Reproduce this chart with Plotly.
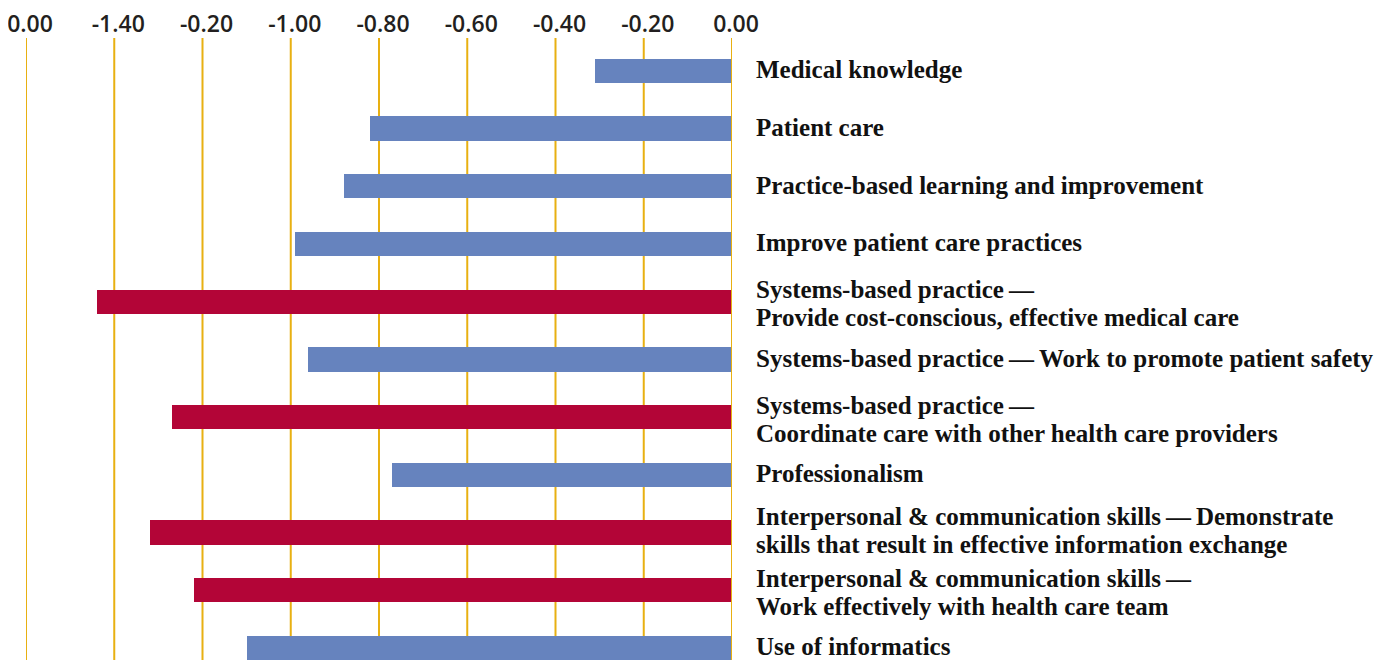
import plotly.graph_objects as go

categories = [
    "Medical knowledge",
    "Patient care",
    "Practice-based learning and improvement",
    "Improve patient care practices",
    "Systems-based practice\u2009\u2014<br>Provide cost-conscious, effective medical care",
    "Systems-based practice\u2009\u2014\u2009Work to promote patient safety",
    "Systems-based practice\u2009\u2014<br>Coordinate care with other health care providers",
    "Professionalism",
    "Interpersonal &amp; communication skills\u2009\u2014\u2009Demonstrate<br>skills that result in effective information exchange",
    "Interpersonal &amp; communication skills\u2009\u2014<br>Work effectively with health care team",
    "Use of informatics",
]
values = [-0.31, -0.82, -0.88, -0.99, -1.44, -0.96, -1.27, -0.77, -1.32, -1.22, -1.10]
highlight = [False, False, False, False, True, False, True, False, True, True, False]

tick_vals = [-1.6, -1.4, -1.2, -1.0, -0.8, -0.6, -0.4, -0.2, 0.0]
tick_text = ["0.00", "-1.40", "-0.20", "-1.00", "-0.80", "-0.60", "-0.40", "-0.20", "0.00"]

BLUE = "#6683be"
RED = "#b30537"
GOLD = "#e8b012"

ypos = list(range(len(categories)))
colors = [RED if h else BLUE for h in highlight]

fig = go.Figure()

# vertical gridlines at the tick positions (zero line drawn above the bars)
for tv in tick_vals:
    fig.add_shape(type="line", xref="x", yref="paper", x0=tv, x1=tv, y0=0, y1=1,
                  line=dict(color=GOLD, width=2),
                  layer="above" if tv == 0.0 else "below")

fig.add_trace(go.Bar(
    x=values, y=ypos, orientation="h",
    marker=dict(color=colors, line=dict(width=0)),
    width=0.42, hoverinfo="skip",
))

label_font = dict(family="Liberation Serif, Times New Roman, serif", size=25, color="#111111")
two_line_shifts = {8: (16, -12)}
for i, (y, lab) in enumerate(zip(ypos, categories)):
    lines = lab.split("<br>")
    shifts = [1] if len(lines) == 1 else list(two_line_shifts.get(i, (12, -16)))
    for line, ys in zip(lines, shifts):
        fig.add_annotation(
            x=0, y=y, xref="x", yref="y", text="<b>" + line + "</b>",
            xanchor="left", yanchor="middle", align="left", showarrow=False,
            xshift=22, yshift=ys, font=label_font,
        )

fig.update_layout(
    width=1381, height=652,
    margin=dict(l=18, r=657, t=30, b=0),
    plot_bgcolor="white", paper_bgcolor="white",
    showlegend=False,
    bargap=0,
)
fig.update_xaxes(
    range=[-1.6, 0.0], side="top",
    tickmode="array", tickvals=tick_vals, ticktext=tick_text,
    showgrid=False, zeroline=False, showline=False, ticks="",
    ticklabeloverflow="allow", ticklabelshift=4,
    tickfont=dict(family="Open Sans, sans-serif", size=23, color="#231f20", weight=600),
)
fig.update_yaxes(
    range=[10.21, -0.57], showticklabels=False, showgrid=False, zeroline=False,
    showline=False,
)

fig.write_html("out.html")
